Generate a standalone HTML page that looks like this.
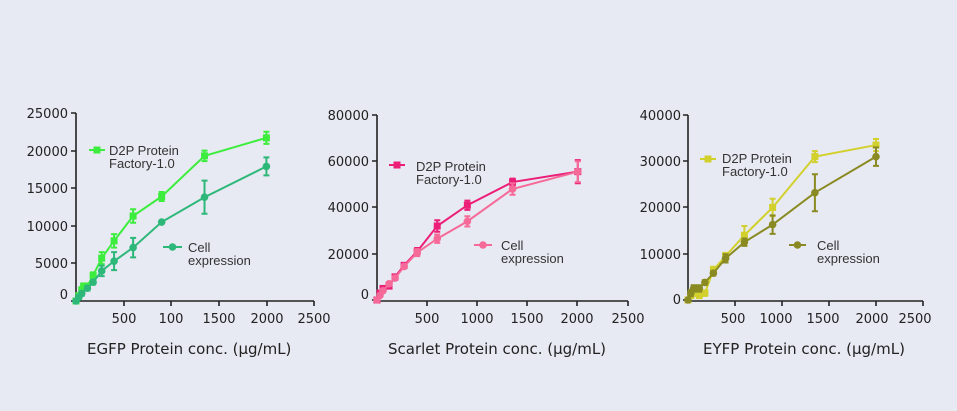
<!DOCTYPE html>
<html><head><meta charset="utf-8"><style>
html,body{margin:0;padding:0;background:#e8eaf3;}
svg{display:block;font-family:"Liberation Sans","DejaVu Sans",sans-serif;}
.t{font-size:13px;fill:#222;font-family:"DejaVu Sans",sans-serif;}
.ax{font-size:15px;fill:#222;font-family:"DejaVu Sans",sans-serif;}
.lg{font-size:13px;fill:#333;}
</style></head><body>
<svg id="s" width="957" height="411" viewBox="0 0 957 411">
<rect width="957" height="411" fill="#e8eaf3"/>
<g stroke="#222" stroke-width="1.6" fill="none">
<path d="M76,113V301H314"/>
<path d="M76,113h-5M76,151h-5M76,188h-5M76,226h-5M76,263h-5M76,301h-5M124,301v5M171,301v5M219,301v5M267,301v5M314,301v5"/>
<path d="M377,115V301H628"/>
<path d="M377,115h-5M377,161h-5M377,207h-5M377,254h-5M377,300h-5M427,301v5M477,301v5M527,301v5M577,301v5M628,301v5"/>
<path d="M688,115V301H923"/>
<path d="M688,115h-5M688,161h-5M688,207h-5M688,254h-5M688,300h-5M735,301v5M782,301v5M829,301v5M876,301v5M923,301v5"/>
</g>
<g class="t" text-anchor="end">
<text x="68" y="118">25000</text><text x="68" y="156">20000</text><text x="68" y="193">15000</text><text x="68" y="231">10000</text><text x="68" y="268">5000</text><text x="68" y="299">0</text>
<text x="369" y="120">80000</text><text x="369" y="166">60000</text><text x="369" y="212">40000</text><text x="369" y="259">20000</text><text x="369" y="299">0</text>
<text x="681" y="120">40000</text><text x="681" y="166">30000</text><text x="681" y="212">20000</text><text x="681" y="259">10000</text><text x="681" y="304">0</text>
</g>
<g class="t" text-anchor="middle">
<text x="124" y="323">500</text><text x="171" y="323">100</text><text x="219" y="323">1500</text><text x="267" y="323">2000</text><text x="314" y="323">2500</text>
<text x="427" y="323">500</text><text x="477" y="323">1000</text><text x="527" y="323">1500</text><text x="577" y="323">2000</text><text x="628" y="323">2500</text>
<text x="733" y="323">500</text><text x="776" y="323">1000</text><text x="823" y="323">1500</text><text x="872" y="323">2000</text><text x="915" y="323">2500</text>
</g>
<g class="ax">
<text x="87" y="354">EGFP Protein conc.  (µg/mL)</text>
<text x="388" y="354">Scarlet Protein conc.  (µg/mL)</text>
<text x="703" y="354">EYFP Protein conc.  (µg/mL)</text>
</g>
<g class="lg">
<text x="109" y="155">D2P Protein</text><text x="109" y="168">Factory-1.0</text>
<text x="188" y="252">Cell</text><text x="188" y="265">expression</text>
<text x="416" y="171">D2P Protein</text><text x="416" y="184">Factory-1.0</text>
<text x="501" y="250">Cell</text><text x="501" y="263">expression</text>
<text x="722" y="163">D2P Protein</text><text x="722" y="176">Factory-1.0</text>
<text x="817" y="250">Cell</text><text x="817" y="263">expression</text>
</g>
<g id="series"></g>
</svg>
<script>
var NS="http://www.w3.org/2000/svg",G=document.getElementById("series");
function el(n,a){var e=document.createElementNS(NS,n);for(var k in a)e.setAttribute(k,a[k]);G.appendChild(e);return e;}
function draw(x0,xs,y0,ys,data,col,sq){
 var pts=data.map(function(d){return[x0+d[0]*xs,y0-d[1]*ys,d[2]*ys];});
 el("polyline",{points:pts.map(function(p){return p[0]+","+p[1]}).join(" "),fill:"none",stroke:col,"stroke-width":2});
 pts.forEach(function(p){
  if(p[2]>0){el("path",{d:"M"+p[0]+","+(p[1]-p[2])+"V"+(p[1]+p[2])+"M"+(p[0]-3)+","+(p[1]-p[2])+"h6M"+(p[0]-3)+","+(p[1]+p[2])+"h6",stroke:col,"stroke-width":2,fill:"none"});}
  if(sq)el("rect",{x:p[0]-3.5,y:p[1]-3.5,width:7,height:7,fill:col});
  else el("circle",{cx:p[0],cy:p[1],r:3.8,fill:col});
 });
}
function leg(x1,x2,y,col,sq){el("line",{x1:x1,x2:x2,y1:y,y2:y,stroke:col,"stroke-width":2});var m=(x1+x2)/2;
 if(sq)el("rect",{x:m-3.5,y:y-3.5,width:7,height:7,fill:col});else el("circle",{cx:m,cy:y,r:3.8,fill:col});}
var s1=188/25000,xs1=238/2500;
draw(76,xs1,301,s1,[[0,0,0],[30,700,300],[60,1500,300],[80,2000,300],[120,2000,300],[180,3400,400],[270,5700,800],[400,8000,900],[600,11300,900],[900,13900,600],[1350,19300,700],[2000,21700,800]],"#3ded3d",true);
draw(76,xs1,301,s1,[[0,0,0],[30,500,300],[60,1000,300],[120,1700,300],[180,2500,300],[270,4000,700],[400,5300,1200],[600,7100,1300],[900,10500,0],[1350,13800,2200],[2000,17900,1200]],"#2db87a",false);
leg(89,105,150,"#3ded3d",true);leg(163,182,247,"#2db87a",false);
var s2=185/80000,xs2=251/2500;
draw(377,xs2,300,s2,[[0,0,0],[30,3000,800],[60,5000,800],[120,6000,900],[180,10000,900],[270,15000,900],[400,21000,1500],[600,32000,2500],[900,41000,2000],[1350,51000,1500],[2000,55500,5000]],"#ec1f78",true);
draw(377,xs2,300,s2,[[0,0,0],[30,2000,600],[60,4000,600],[120,7000,800],[180,9500,800],[270,14500,800],[400,20500,1500],[600,26500,1800],[900,34000,2200],[1350,48000,2500],[2000,55500,4500]],"#f56a98",false);
leg(389,405,165,"#ec1f78",true);leg(474,492,245,"#f56a98",false);
var s3=185/40000,xs3=235/2500;
draw(688,xs3,300,s3,[[0,0,0],[30,1000,600],[60,1500,600],[120,1000,600],[180,1500,600],[270,6500,700],[400,9500,700],[600,14000,2000],[900,20000,1900],[1350,31000,1200],[2000,33500,1300]],"#d2d02c",true);
draw(688,xs3,300,s3,[[0,0,0],[30,1500,700],[60,2500,700],[120,2500,700],[180,3800,500],[270,5800,500],[400,9000,900],[600,12500,800],[900,16300,2000],[1350,23200,4000],[2000,31000,2000]],"#8a8a22",false);
leg(700,716,159,"#d2d02c",true);leg(789,806,245,"#8a8a22",false);
</script>
</body></html>
